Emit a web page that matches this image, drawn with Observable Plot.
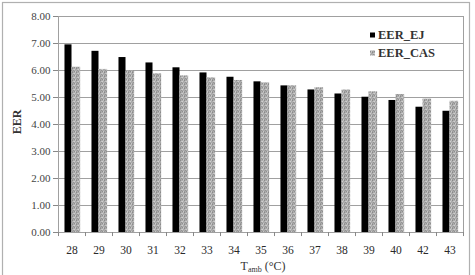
<!DOCTYPE html>
<html>
<head>
<meta charset="utf-8">
<script src="https://cdn.jsdelivr.net/npm/d3@7"></script>
<script src="https://cdn.jsdelivr.net/npm/@observablehq/plot@0.6"></script>
<style>
  html, body { margin: 0; padding: 0; background: #fff; }
  #chart { position: relative; width: 475px; height: 275px; overflow: hidden; }
</style>
</head>
<body>
<div id="chart"></div>
<script>
const temps = ["28","29","30","31","32","33","34","35","36","37","38","39","40","42","43"];
const eerEJ = [6.95,6.71,6.48,6.28,6.10,5.91,5.75,5.58,5.43,5.28,5.13,5.01,4.89,4.64,4.49];
const eerCAS = [6.12,6.04,5.99,5.88,5.80,5.73,5.63,5.54,5.44,5.36,5.28,5.21,5.11,4.94,4.86];
const seriesNames = ["EER_EJ", "EER_CAS"];
const yTicks = [0,1,2,3,4,5,6,7,8];

const dataEJ = temps.map((t, i) => ({t, v: eerEJ[i]}));
const dataCAS = temps.map((t, i) => ({t, v: eerCAS[i]}));

const W = 475, H = 275;
const mL = 58, mR = 12, mT = 16, mB = 43;
const band = (W - mL - mR) / temps.length;
const font = "'Liberation Serif', 'DejaVu Serif', serif";
const grayFill = "url(#speckle)";

const plot = Plot.plot({
  width: W,
  height: H,
  marginLeft: mL,
  marginRight: mR,
  marginTop: mT,
  marginBottom: mB,
  style: {fontFamily: font, fontSize: "11px", color: "#333", background: "transparent"},
  x: {type: "band", domain: temps, padding: 0},
  y: {domain: [0, 8]},
  marks: [
    Plot.gridY(yTicks, {stroke: "#a0a0a0", strokeOpacity: 1, strokeWidth: 1}),
    Plot.barY(dataEJ, {x: "t", y: "v", fill: "#000", insetLeft: band * 0.24, insetRight: band * 0.5}),
    Plot.barY(dataCAS, {x: "t", y: "v", fill: grayFill, insetLeft: band * 0.5, insetRight: band * 0.18}),
    Plot.frame({stroke: "#a0a0a0", strokeWidth: 1}),
    Plot.ruleX(temps, {x: d => d, dx: -band / 2, y1: 0, y2: -0.15, stroke: "#888"}),
    Plot.ruleX([temps[temps.length - 1]], {x: d => d, dx: band / 2, y1: 0, y2: -0.15, stroke: "#888"}),
    Plot.axisX({tickSize: 0, tickPadding: 13, label: null, fill: "#2a2a2a", fontSize: 11.5}),
    Plot.axisY(yTicks, {tickSize: 5, tickPadding: 3, label: null, tickFormat: d => d.toFixed(2), stroke: "#888", fill: "#444", fontSize: 11})
  ]
});

document.getElementById("chart").appendChild(plot);
const svg = d3.select(plot);

// speckled pattern for the grey series
const defs = svg.insert("defs", ":first-child");
const pat = defs.append("pattern").attr("id", "speckle").attr("width", 4).attr("height", 4).attr("patternUnits", "userSpaceOnUse");
pat.append("rect").attr("width", 4).attr("height", 4).attr("fill", "#ababab");
[[0,0,"#8a8a8a"],[2,1,"#cfcfcf"],[1,2,"#939393"],[3,3,"#c8c8c8"],[3,0,"#bdbdbd"],[0,3,"#9a9a9a"],[2,3,"#8f8f8f"],[1,1,"#c2c2c2"]].forEach(([x,y,c]) =>
  pat.append("rect").attr("x", x).attr("y", y).attr("width", 1).attr("height", 1).attr("fill", c));

// outer chart-area border
svg.append("rect").attr("x", 2.5).attr("y", 2.5).attr("width", 467).attr("height", 290)
  .attr("fill", "none").attr("stroke", "#b0b0b0").attr("stroke-width", 1.2);

// y-axis title
svg.append("text").attr("transform", "translate(21,122) rotate(-90)")
  .attr("text-anchor", "middle").attr("font-family", font).attr("font-weight", "bold")
  .attr("font-size", 12).attr("fill", "#333").text("EER");

// x-axis title with subscript
const xt = svg.append("text").attr("x", 263).attr("y", 270).attr("text-anchor", "middle")
  .attr("font-family", font).attr("font-size", 12).attr("fill", "#333");
xt.append("tspan").text("T");
xt.append("tspan").attr("font-size", 8).attr("dy", 2).text("amb");
xt.append("tspan").attr("dy", -2).text(" (°C)");

// legend
const legend = svg.append("g").attr("font-family", font).attr("font-weight", "bold")
  .attr("font-size", 12.5).attr("fill", "#333").attr("text-anchor", "start");
const legendFills = ["#000", grayFill];
seriesNames.forEach((name, i) => {
  const base = 39 + i * 18;
  legend.append("rect").attr("x", 370).attr("y", base - 6.5).attr("width", 5).attr("height", 5).attr("fill", legendFills[i]);
  legend.append("text").attr("x", 378).attr("y", base).attr("text-anchor", "start").text(name);
});
</script>
</body>
</html>
